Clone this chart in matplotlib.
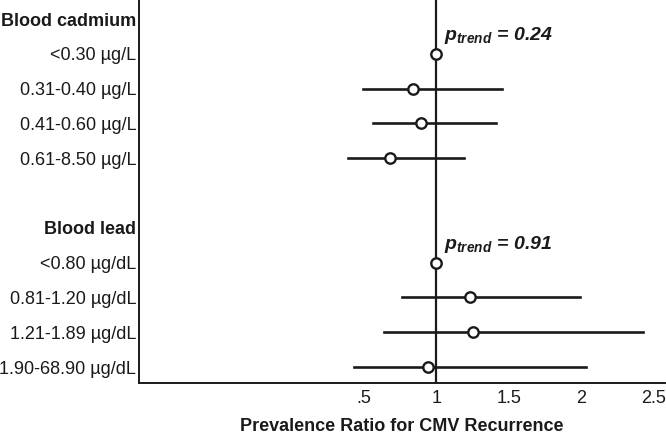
import numpy as np
import matplotlib
matplotlib.use("Agg")
import matplotlib.pyplot as plt

plt.rcParams["font.family"] = ["Liberation Sans", "DejaVu Sans"]
plt.rcParams["mathtext.fontset"] = "custom"
plt.rcParams["mathtext.it"] = "Liberation Sans:italic:bold"
plt.rcParams["mathtext.rm"] = "Liberation Sans:italic:bold"

# ---- data ----
row_labels = [
    "Blood cadmium", "<0.30 µg/L", "0.31-0.40 µg/L", "0.41-0.60 µg/L", "0.61-8.50 µg/L",
    "",
    "Blood lead", "<0.80 µg/dL", "0.81-1.20 µg/dL", "1.21-1.89 µg/dL", "1.90-68.90 µg/dL",
]
header_rows = [0, 6]

est_rows = [1, 2, 3, 4, 7, 8, 9, 10]
pr = [1.00, 0.84, 0.89, 0.68, 1.00, 1.23, 1.25, 0.94]
ci_low = [np.nan, 0.49, 0.56, 0.39, np.nan, 0.76, 0.64, 0.43]
ci_high = [np.nan, 1.455, 1.41, 1.19, np.nan, 1.99, 2.43, 2.03]

trend_rows = [1, 7]
trend_text = ["0.24", "0.91"]

xticks = [0.5, 1, 1.5, 2, 2.5]
xtick_labels = [".5", "1", "1.5", "2", "2.5"]

# ---- figure ----
col = "#1a1a1a"
fig = plt.figure(figsize=(6.66, 4.34), dpi=100)
ax = fig.add_axes([0.2087, 0.1175, 0.79, 0.8825])

ax.axvline(1, color=col, lw=1.6, zorder=1)

for r, lo, hi in zip(est_rows, ci_low, ci_high):
    if not np.isnan(lo):
        ax.plot([lo, hi], [r, r], color=col, lw=1.9, zorder=2)
ax.plot(pr, est_rows, "o", mfc="white", mec=col, mew=1.7, ms=7.5, zorder=3)

for r, t in zip(trend_rows, trend_text):
    ax.text(1.05, r - 0.52, r"$p_{trend}$" + " = " + t, fontsize=14,
            fontweight="bold", style="italic", color=col, va="center", ha="left")

ax.set_xlim(-1.055, 2.58)
ax.set_ylim(10.46, -0.55)

ax.set_yticks(range(len(row_labels)))
ax.set_yticklabels(row_labels, fontsize=13, color=col)
for i in header_rows:
    ax.get_yticklabels()[i].set_fontweight("bold")
ax.tick_params(axis="y", length=0, pad=2)

ax.set_xticks(xticks)
ax.set_xticklabels(xtick_labels, fontsize=13, color=col)
ax.tick_params(axis="x", length=0, pad=5)

ax.set_xlabel("Prevalence Ratio for CMV Recurrence", fontsize=13,
              fontweight="bold", color=col, labelpad=8)

for s in ["top", "right"]:
    ax.spines[s].set_visible(False)
for s in ["left", "bottom"]:
    ax.spines[s].set_color(col)
    ax.spines[s].set_linewidth(1.4)

fig.savefig("out.png", dpi=100)
